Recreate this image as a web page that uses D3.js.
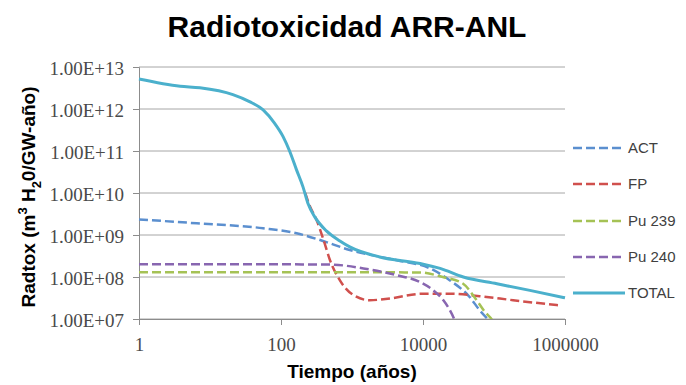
<!DOCTYPE html>
<html>
<head>
<meta charset="utf-8">
<script src="https://cdn.jsdelivr.net/npm/d3@7"></script>
<style>
	body { margin: 0; background: #fff; }
	svg { display: block; }
</style>
</head>
<body>
<div id="chart"></div>
<script>
// Series names and colours (legend order)
var seriesNames = ["ACT", "FP", "Pu 239", "Pu 240", "TOTAL"];
var seriesColors = ["#5b8fcf", "#d0504d", "#a5c255", "#8866b0", "#4bb0cc"];

// Values (tiempo in years, radtox in m3 H20/GW-año)
var tiempoACT = [1, 6.5, 56, 166, 355, 930, 4300, 12600, 24000, 45700, 63000, 83000, 100000];
var radtoxACT = [2.35e9, 1.9e9, 1.45e9, 1.1e9, 7.6e8, 4.4e8, 2.5e8, 1.6e8, 8.3e7, 3.3e7, 1.6e7, 9.5e6, 6e6];

var tiempoFP = [219, 257, 316, 398, 490, 676, 1050, 1780, 3470, 10000, 24000, 63000, 186000, 850000];
var radtoxFP = [1.0e10, 4.7e9, 2.3e9, 7.6e8, 2.5e8, 8.3e7, 3.7e7, 2.8e7, 3.1e7, 4.0e7, 4.0e7, 3.5e7, 2.8e7, 2.1e7];

var tiempoPu239 = [1, 100, 1000, 9100, 19000, 36000, 57500, 74000, 93000, 110000];
var radtoxPu239 = [1.3e8, 1.3e8, 1.3e8, 1.28e8, 1.0e8, 7.1e7, 2.75e7, 1.5e7, 9.8e6, 6e6];

var tiempoPu240 = [1, 100, 490, 1450, 4300, 9100, 14000, 19500, 24000, 27500, 31000];
var radtoxPu240 = [2.0e8, 2.0e8, 1.98e8, 1.6e8, 1.1e8, 7.6e7, 4.8e7, 2.75e7, 1.6e7, 1.0e7, 6e6];

var tiempoTotal = [1, 3.8, 7.2, 21, 36, 56, 81, 107, 133, 165, 204, 240, 299, 436, 676, 930, 2450, 9100, 17400, 37000, 110000, 320000, 1000000];
var radtoxTotal = [5.2e12, 3.5e12, 3.2e12, 2.2e12, 1.5e12, 9.5e11, 4.6e11, 2.2e11, 9.7e10, 3.6e10, 1.4e10, 5.6e9, 2.7e9, 1.25e9, 7.2e8, 5.2e8, 3.0e8, 2.1e8, 1.6e8, 1.0e8, 6.9e7, 4.8e7, 3.2e7];

var xTickValues = [1, 100, 10000, 1000000];
var xTickLabels = ["1", "100", "10000", "1000000"];
var yTickValues = [1e7, 1e8, 1e9, 1e10, 1e11, 1e12, 1e13];
var yTickLabels = ["1.00E+07", "1.00E+08", "1.00E+09", "1.00E+10", "1.00E+11", "1.00E+12", "1.00E+13"];

var width = 686, height = 385;
var plot = {left: 139, right: 565, top: 67, bottom: 319};

var svg = d3.select("#chart").append("svg")
	.attr("width", width)
	.attr("height", height);

svg.append("rect").attr("width", width).attr("height", height).attr("fill", "#fff");

var x = d3.scaleLog().domain([1, 1e6]).range([plot.left, plot.right]);
var y = d3.scaleLog().domain([1e7, 1e13]).range([plot.bottom, plot.top]);

// Title
svg.append("text")
	.attr("x", 347).attr("y", 37)
	.attr("text-anchor", "middle")
	.style("font", "bold 30px 'Liberation Sans', Arial, sans-serif")
	.attr("fill", "#000")
	.text("Radiotoxicidad ARR-ANL");

// Horizontal gridlines
svg.append("g").selectAll("line")
	.data(yTickValues)
	.enter().append("line")
	.attr("x1", plot.left).attr("x2", plot.right)
	.attr("y1", function(d){ return y(d); })
	.attr("y2", function(d){ return y(d); })
	.attr("stroke", "#a6a6a6")
	.attr("stroke-width", 1);

// Y axis
var yAxis = d3.axisLeft(y).tickValues(yTickValues)
	.tickSize(6)
	.tickFormat(function(d, i){ return yTickLabels[i]; });
var gy = svg.append("g")
	.attr("transform", "translate(" + plot.left + ",0)")
	.call(yAxis);
gy.select(".domain").attr("stroke", "#8c8c8c");
gy.selectAll(".tick line").attr("stroke", "#8c8c8c");
gy.selectAll(".tick text")
	.attr("x", -15).attr("dy", "0.38em")
	.style("font", "19px 'Liberation Serif', 'Times New Roman', serif")
	.attr("fill", "#4a4a4a");

// X axis
var xAxis = d3.axisBottom(x).tickValues(xTickValues)
	.tickSize(6)
	.tickFormat(function(d, i){ return xTickLabels[i]; });
var gx = svg.append("g")
	.attr("transform", "translate(0," + plot.bottom + ")")
	.call(xAxis);
gx.select(".domain").attr("stroke", "#8c8c8c");
gx.selectAll(".tick line").attr("stroke", "#8c8c8c");
gx.selectAll(".tick text")
	.attr("y", 32).attr("dy", 0)
	.style("font", "19px 'Liberation Serif', 'Times New Roman', serif")
	.attr("fill", "#4a4a4a");

// Axis titles
svg.append("text")
	.attr("x", 352).attr("y", 378)
	.attr("text-anchor", "middle")
	.style("font", "bold 19px 'Liberation Sans', Arial, sans-serif")
	.attr("fill", "#000")
	.text("Tiempo (años)");

var yTitle = svg.append("text")
	.attr("transform", "translate(35,197) rotate(-90)")
	.attr("text-anchor", "middle")
	.style("font", "bold 19px 'Liberation Sans', Arial, sans-serif")
	.attr("fill", "#000");
yTitle.append("tspan").text("Radtox (m");
yTitle.append("tspan").attr("dy", -8).style("font-size", "13px").text("3");
yTitle.append("tspan").attr("dy", 8).text(" H");
yTitle.append("tspan").attr("dy", 6).style("font-size", "13px").text("2");
yTitle.append("tspan").attr("dy", -6).text("0/GW-año)");

// Lines, clipped at the bottom of the plot like the original
svg.append("clipPath").attr("id", "plotClip")
	.append("rect")
	.attr("x", plot.left - 2).attr("y", 0)
	.attr("width", plot.right - plot.left + 4)
	.attr("height", plot.bottom);

var lineData = [
	d3.zip(tiempoACT, radtoxACT),
	d3.zip(tiempoFP, radtoxFP),
	d3.zip(tiempoPu239, radtoxPu239),
	d3.zip(tiempoPu240, radtoxPu240),
	d3.zip(tiempoTotal, radtoxTotal)
];

var line = d3.line()
	.x(function(d){ return x(d[0]); })
	.y(function(d){ return y(d[1]); })
	.curve(d3.curveMonotoneX);

var lines = svg.append("g").attr("clip-path", "url(#plotClip)");
lineData.forEach(function(pts, i){
	var isTotal = seriesNames[i] === "TOTAL";
	lines.append("path")
		.attr("d", line(pts))
		.attr("fill", "none")
		.attr("stroke", seriesColors[i])
		.attr("stroke-width", isTotal ? 3 : 2.5)
		.attr("stroke-dasharray", isTotal ? null : "9,4");
});

// Legend
var legendY = [148, 184, 221, 257, 293];
var legend = svg.append("g").selectAll("g")
	.data(seriesNames)
	.enter().append("g")
	.attr("transform", function(d, i){ return "translate(573," + legendY[i] + ")"; });
legend.append("line")
	.attr("x1", 0).attr("x2", 52)
	.attr("stroke", function(d, i){ return seriesColors[i]; })
	.attr("stroke-width", function(d){ return d === "TOTAL" ? 3 : 2.5; })
	.attr("stroke-dasharray", function(d){ return d === "TOTAL" ? null : "9,4"; });
legend.append("text")
	.attr("x", 55).attr("dy", "0.36em")
	.style("font", "15px 'Liberation Sans', Arial, sans-serif")
	.attr("fill", "#404040")
	.text(function(d){ return d; });
</script>
</body>
</html>
